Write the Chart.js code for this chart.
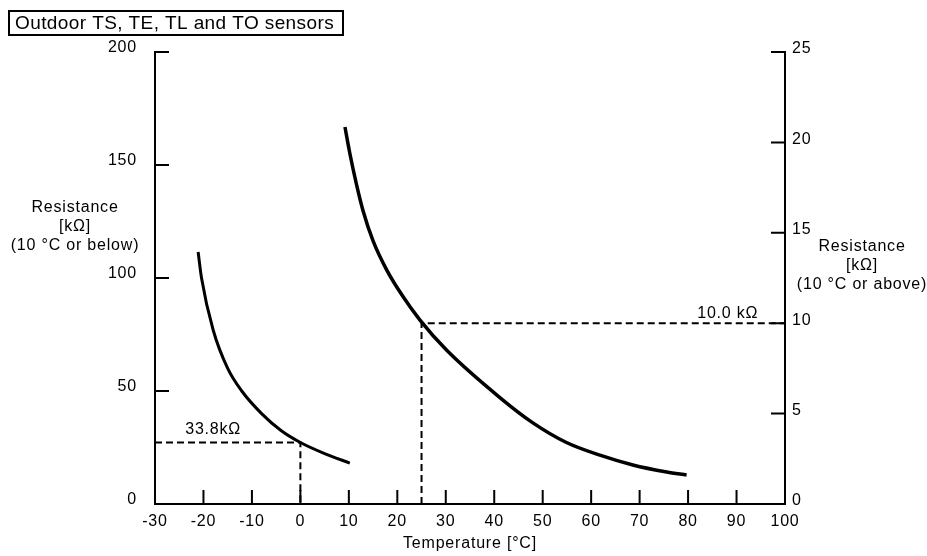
<!DOCTYPE html>
<html>
<head>
<meta charset="utf-8">
<script src="https://cdn.jsdelivr.net/npm/chart.js@4.4.1/dist/chart.umd.min.js"></script>
<style>
  html, body { margin: 0; padding: 0; background: #fff; }
  #wrap { width: 927px; height: 556px; }
</style>
</head>
<body>
<div id="wrap"><canvas id="chart"></canvas></div>
<script>
// curve below 10 °C (left axis, kΩ)
const lowTemps = [-21.1, -20.4, -18.0, -15.0, -12.1, -8.0, -4.0, 0, 5.0, 10.2];
const lowRes   = [111.5, 100, 77, 60, 50, 40, 32.5, 27.2, 22.3, 18.1];

// curve above 10 °C (right axis, kΩ)
const highTemps = [9.2, 10.2, 11.6, 12.9, 15.0, 17.8, 21.1, 24.6, 30.2, 41.1, 47.9, 54.9, 61.8, 68.6, 75.6, 79.7];
const highRes   = [20.85, 19.4, 17.65, 16.25, 14.55, 12.95, 11.5, 10.2, 8.5, 5.9, 4.5, 3.4, 2.7, 2.16, 1.77, 1.6];

// reference markers
const lowMarkT = 0,  lowMarkR = 27.2,  lowMarkLabel = "33.8kΩ";
const highMarkT = 25, highMarkR = 10,  highMarkLabel = "10.0 kΩ";

const xTicks = [-30, -20, -10, 0, 10, 20, 30, 40, 50, 60, 70, 80, 90, 100];
const leftTicks = [0, 50, 100, 150, 200];
const rightTicks = [0, 5, 10, 15, 20, 25];

const FONT = "'Liberation Sans', Arial, sans-serif";
const SPACING = "0.8px";

const toXY = (xs, ys) => xs.map((x, i) => ({ x: x, y: ys[i] }));

// wider lettering like the scanned original
const spacing = {
  id: "spacing",
  beforeUpdate(chart) { chart.ctx.letterSpacing = SPACING; },
  beforeDraw(chart) { chart.ctx.letterSpacing = SPACING; }
};

// ticks pointing into the plot + the free text
const extras = {
  id: "extras",
  afterDraw(chart) {
    const { ctx, scales } = chart;
    const x = scales.x, yL = scales.yL, yR = scales.yR;
    const len = 14;
    ctx.save();
    ctx.strokeStyle = "#000";
    ctx.lineWidth = 2;
    ctx.beginPath();
    xTicks.slice(1, -1).forEach(v => {
      const px = x.getPixelForValue(v);
      ctx.moveTo(px, x.top);
      ctx.lineTo(px, x.top - len);
    });
    leftTicks.slice(1).forEach(v => {
      const py = yL.getPixelForValue(v);
      ctx.moveTo(yL.right, py);
      ctx.lineTo(yL.right + len, py);
    });
    rightTicks.slice(1).forEach(v => {
      const py = yR.getPixelForValue(v);
      ctx.moveTo(yR.left, py);
      ctx.lineTo(yR.left - len, py);
    });
    ctx.stroke();

    // title box
    ctx.fillStyle = "#000";
    ctx.textBaseline = "middle";
    ctx.textAlign = "left";
    ctx.lineWidth = 2;
    ctx.strokeRect(9, 11, 334, 24);
    ctx.letterSpacing = "0.4px";
    ctx.font = "19px " + FONT;
    ctx.fillText("Outdoor TS, TE, TL and TO sensors", 15, 24);

    // side titles
    ctx.letterSpacing = SPACING;
    ctx.font = "16px " + FONT;
    ctx.textAlign = "center";
    ["Resistance", "[kΩ]", "(10 °C or below)"].forEach((t, i) => ctx.fillText(t, 75, 208 + i * 19));
    ["Resistance", "[kΩ]", "(10 °C or above)"].forEach((t, i) => ctx.fillText(t, 862, 247 + i * 19));

    // marker labels
    ctx.textBaseline = "alphabetic";
    ctx.fillText(lowMarkLabel, x.getPixelForValue(-18), yL.getPixelForValue(lowMarkR) - 9);
    ctx.textAlign = "right";
    ctx.fillText(highMarkLabel, x.getPixelForValue(94.5), yR.getPixelForValue(highMarkR) - 5);
    ctx.restore();
  }
};

const ctx = document.getElementById("chart").getContext("2d");
new Chart(ctx, {
  type: "scatter",
  data: {
    datasets: [
      {
        data: toXY(lowTemps, lowRes),
        yAxisID: "yL",
        showLine: true,
        borderColor: "#000",
        borderWidth: 3,
        pointRadius: 0,
        cubicInterpolationMode: "monotone"
      },
      {
        data: toXY(highTemps, highRes),
        yAxisID: "yR",
        showLine: true,
        borderColor: "#000",
        borderWidth: 3.5,
        pointRadius: 0,
        cubicInterpolationMode: "monotone"
      },
      {
        data: [{ x: -30, y: lowMarkR }, { x: lowMarkT, y: lowMarkR }, { x: lowMarkT, y: 0 }],
        yAxisID: "yL",
        showLine: true,
        borderColor: "#000",
        borderWidth: 2,
        borderDash: [7, 4],
        pointRadius: 0
      },
      {
        data: [{ x: highMarkT, y: 0 }, { x: highMarkT, y: highMarkR }, { x: 100, y: highMarkR }],
        yAxisID: "yR",
        showLine: true,
        borderColor: "#000",
        borderWidth: 2,
        borderDash: [7, 4],
        pointRadius: 0
      }
    ]
  },
  options: {
    responsive: true,
    maintainAspectRatio: false,
    animation: false,
    layout: { padding: { top: 52, left: 0, right: 0, bottom: 0 } },
    plugins: { legend: { display: false }, tooltip: { enabled: false } },
    scales: {
      x: {
        type: "linear",
        position: "bottom",
        min: -30, max: 100,
        afterBuildTicks: s => { s.ticks = xTicks.map(v => ({ value: v })); },
        afterFit: s => { s.height = 52; },
        grid: { display: false, drawTicks: false },
        border: { display: true, color: "#000", width: 2 },
        ticks: { color: "#000", padding: 8, maxRotation: 0, font: { family: FONT, size: 16 } },
        title: { display: true, text: "Temperature [°C]", color: "#000", padding: { top: 0, bottom: 3 }, font: { family: FONT, size: 16 } }
      },
      yL: {
        type: "linear",
        position: "left",
        min: 0, max: 200,
        afterBuildTicks: s => { s.ticks = leftTicks.map(v => ({ value: v })); },
        afterFit: s => { s.width = 155; },
        grid: { display: false, drawTicks: false },
        border: { display: true, color: "#000", width: 2 },
        ticks: { color: "#000", padding: 18, labelOffset: -4, font: { family: FONT, size: 16 } }
      },
      yR: {
        type: "linear",
        position: "right",
        min: 0, max: 25,
        afterBuildTicks: s => { s.ticks = rightTicks.map(v => ({ value: v })); },
        afterFit: s => { s.width = 142; },
        grid: { display: false, drawTicks: false },
        border: { display: true, color: "#000", width: 2 },
        ticks: { color: "#000", padding: 7, labelOffset: -3, font: { family: FONT, size: 16 } }
      }
    }
  },
  plugins: [spacing, extras]
});
</script>
</body>
</html>
